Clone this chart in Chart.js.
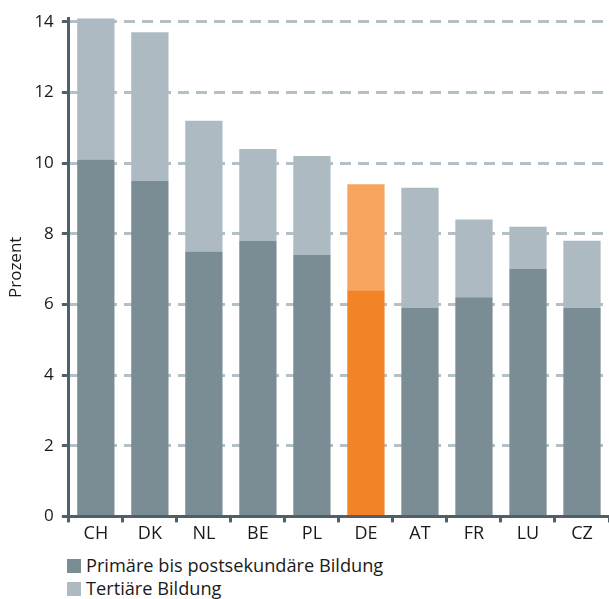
<!DOCTYPE html>
<html><head><meta charset="utf-8">
<script src="https://cdn.jsdelivr.net/npm/chart.js@4/dist/chart.umd.min.js"></script>
<style>
html,body{margin:0;padding:0;background:#fff;}
#wrap{position:relative;width:609px;height:599px;}
#c{position:absolute;left:0;top:0;}
#legend{position:absolute;left:67px;top:554px;font-family:"Open Sans",sans-serif;font-size:18.2px;color:#1a1a1a;line-height:23px;}
.li{display:flex;align-items:center;}
.sw{width:14px;height:14px;margin-right:5px;display:inline-block;}
</style></head>
<body><div id="wrap"><canvas id="c" width="609" height="546"></canvas>
<div id="legend"></div></div>
<script>
const categories = ["CH","DK","NL","BE","PL","DE","AT","FR","LU","CZ"];
const primaryValues = [10.1, 9.5, 7.5, 7.8, 7.4, 6.4, 5.9, 6.2, 7.0, 5.9];
const tertiaryValues = [4.0, 4.2, 3.7, 2.6, 2.8, 3.0, 3.4, 2.2, 1.2, 1.9];
const seriesNames = ["Primäre bis postsekundäre Bildung", "Tertiäre Bildung"];
const yTicks = [0, 2, 4, 6, 8, 10, 12, 14];
const highlight = "DE";

const primColor = "#7b8d94", tertColor = "#adbac1";
const primHi = "#f28326", tertHi = "#f7a55e";
const axisColor = "#4f6068";
const FONT = "'Open Sans', sans-serif";

new Chart(document.getElementById("c"), {
  type: "bar",
  data: {
    labels: categories,
    datasets: [
      { label: seriesNames[0], data: primaryValues,
        backgroundColor: categories.map(c => c === highlight ? primHi : primColor),
        barPercentage: 0.69, categoryPercentage: 1 },
      { label: seriesNames[1], data: tertiaryValues,
        backgroundColor: categories.map(c => c === highlight ? tertHi : tertColor),
        barPercentage: 0.69, categoryPercentage: 1 }
    ]
  },
  options: {
    responsive: false, animation: false,
    layout: { padding: { top: 18, right: 0, left: 2, bottom: 0 } },
    plugins: { legend: { display: false }, tooltip: { enabled: false } },
    scales: {
      x: {
        stacked: true,
        grid: { drawOnChartArea: false, drawTicks: true, tickLength: 6, tickColor: axisColor, tickWidth: 3, offset: true },
        border: { display: true, color: axisColor, width: 3 },
        ticks: { color: "#1a1a1a", font: { family: FONT, size: 18 }, padding: 1 }
      },
      y: {
        stacked: true, min: 0, max: 14.1,
        afterBuildTicks: s => { s.ticks = yTicks.map(v => ({ value: v })); },
        grid: { color: "#b3c0c6", lineWidth: 3, tickColor: axisColor, tickWidth: 3, tickLength: 7, tickBorderDash: [] },
        border: { display: true, color: axisColor, width: 3, dash: [11, 7] },
        ticks: { color: "#1a1a1a", font: { family: FONT, size: 17 }, padding: 8 },
        title: { display: true, text: "Prozent", color: "#1a1a1a", font: { family: FONT, size: 17 }, padding: { top: 4, bottom: 0 } }
      }
    }
  }
});

const lg = document.getElementById("legend");
[[seriesNames[0], primColor], [seriesNames[1], tertColor]].forEach(([t, c]) => {
  const d = document.createElement("div"); d.className = "li";
  d.innerHTML = '<span class="sw" style="background:' + c + '"></span><span>' + t + '</span>';
  lg.appendChild(d);
});
</script></body></html>
